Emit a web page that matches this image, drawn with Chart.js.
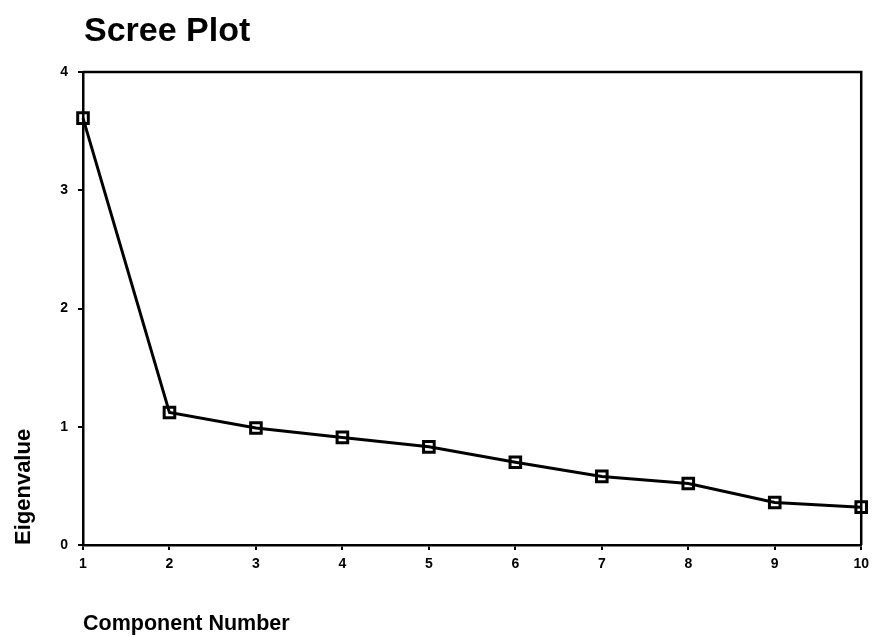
<!DOCTYPE html>
<html>
<head>
<meta charset="utf-8">
<script src="https://cdn.jsdelivr.net/npm/chart.js@4"></script>
<style>
  html, body { margin: 0; padding: 0; background: #fff; }
  #wrap { width: 875px; height: 637px; position: relative; }
</style>
</head>
<body>
<div id="wrap"><canvas id="scree"></canvas></div>
<script>
const components = ['1', '2', '3', '4', '5', '6', '7', '8', '9', '10'];
const eigenvalues = [3.61, 1.12, 0.99, 0.91, 0.83, 0.70, 0.58, 0.52, 0.36, 0.32];
const yTicks = [0, 1, 2, 3, 4];
const chartTitle = 'Scree Plot';
const xTitle = 'Component Number';
const yTitle = 'Eigenvalue';

const FONT = '"Liberation Sans", Arial, sans-serif';

// frame round the plot area + title at the plot's left edge
const framePlugin = {
  id: 'frame',
  afterDraw(chart) {
    const ctx = chart.ctx;
    const a = chart.chartArea;
    ctx.save();
    ctx.strokeStyle = '#000';
    ctx.lineWidth = 2.5;
    ctx.beginPath();
    ctx.moveTo(a.left, a.top);
    ctx.lineTo(a.right, a.top);
    ctx.lineTo(a.right, a.bottom);
    ctx.stroke();
    ctx.fillStyle = '#000';
    ctx.font = 'bold 34px ' + FONT;
    ctx.textAlign = 'left';
    ctx.textBaseline = 'alphabetic';
    ctx.fillText(chartTitle, a.left + 1, 41);
    ctx.restore();
  }
};

const ctx = document.getElementById('scree');
new Chart(ctx, {
  type: 'line',
  data: {
    labels: components,
    datasets: [{
      data: eigenvalues,
      borderColor: '#000',
      borderWidth: 3,
      tension: 0,
      pointStyle: 'rect',
      pointRadius: 7.5,
      pointBorderWidth: 3,
      pointBorderColor: '#000',
      pointBackgroundColor: 'rgba(0,0,0,0)',
      clip: false
    }]
  },
  options: {
    responsive: true,
    maintainAspectRatio: false,
    animation: false,
    layout: { padding: { top: 72, right: 12, left: 0, bottom: 0 } },
    plugins: {
      legend: { display: false },
      tooltip: { enabled: false }
    },
    scales: {
      x: {
        type: 'category',
        offset: false,
        afterFit(scale) { scale.height = 92; },
        grid: { drawOnChartArea: false, drawTicks: true, tickLength: 5, color: '#000', lineWidth: 2 },
        border: { display: true, color: '#000', width: 2.5 },
        ticks: { color: '#000', padding: 6, maxRotation: 0, font: { family: FONT, size: 14, weight: 'bold' } },
        title: {
          display: true, text: xTitle, align: 'start', color: '#000',
          padding: { top: 0, bottom: 0 },
          font: { family: FONT, size: 21.5, weight: 'bold', lineHeight: 1.2 }
        }
      },
      y: {
        min: 0,
        max: 4,
        afterFit(scale) { scale.width = 83; },
        afterBuildTicks(scale) { scale.ticks = yTicks.map(v => ({ value: v })); },
        grid: { drawOnChartArea: false, drawTicks: true, tickLength: 5, color: '#000', lineWidth: 2 },
        border: { display: true, color: '#000', width: 2.5 },
        ticks: { color: '#000', padding: 10, font: { family: FONT, size: 14, weight: 'bold' } },
        title: {
          display: true, text: yTitle, align: 'start', color: '#000',
          padding: { top: 11, bottom: 0 },
          font: { family: FONT, size: 22, weight: 'bold', lineHeight: 1.2 }
        }
      }
    }
  },
  plugins: [framePlugin]
});
</script>
</body>
</html>
